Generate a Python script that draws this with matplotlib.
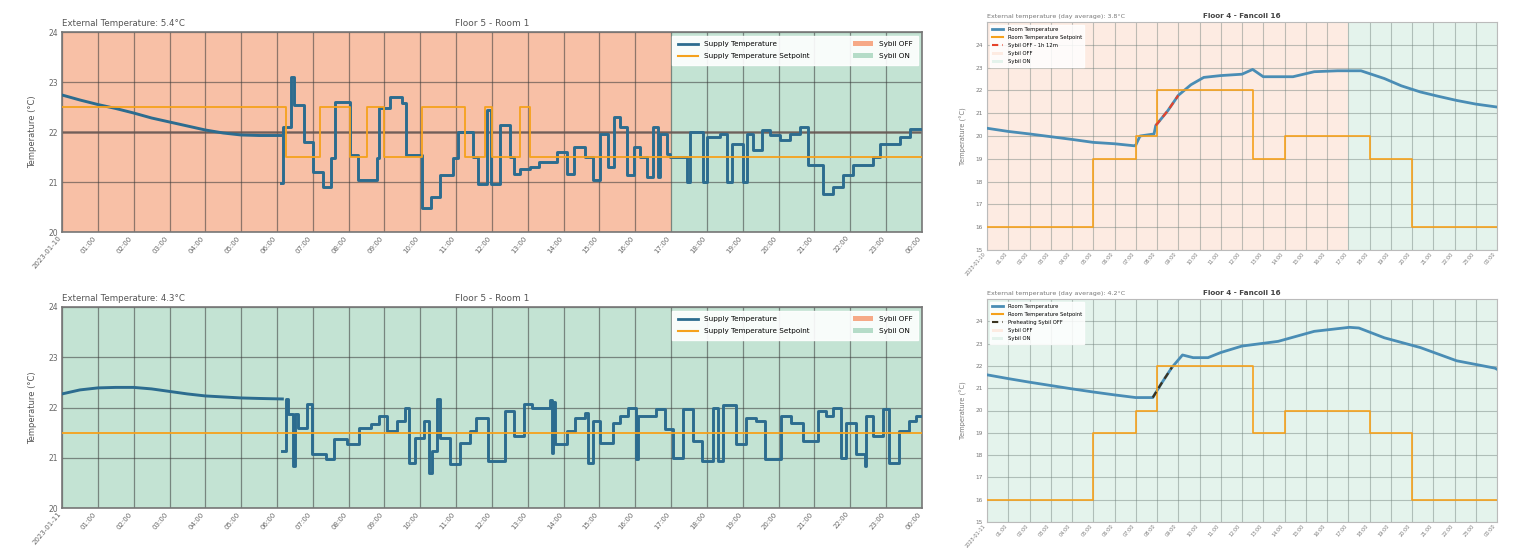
import matplotlib.pyplot as plt
import numpy as np
from matplotlib.patches import Patch
from matplotlib.lines import Line2D

plt.rcParams['font.family'] = ['DejaVu Sans']

hour_ticks = np.arange(25)

# ---------------- Floor 5 - Room 1 (supply temperature) ----------------
# day 1: Sybil OFF until 17:00, ON afterwards
ext_1 = 5.4
supply_ramp_t1 = [0, 0.5, 1, 1.5, 2, 2.5, 3, 3.5, 4, 4.5, 5, 5.5, 6.1]
supply_ramp_v1 = [22.74, 22.64, 22.55, 22.47, 22.38, 22.28, 22.2, 22.12, 22.04, 21.98, 21.94, 21.93, 21.93]
supply_step_t1 = [6.1, 6.18, 6.38, 6.47, 6.75, 7.0, 7.27, 7.5, 7.63, 8.05, 8.25, 8.8, 8.85, 9.15,
                  9.5, 9.6, 10.05, 10.3, 10.55, 10.9, 11.05, 11.48, 11.62, 11.85, 11.97, 12.23,
                  12.51, 12.6, 12.79, 13.06, 13.3, 13.8, 14.1, 14.3, 14.6, 14.83, 15.02, 15.25,
                  15.4, 15.57, 15.76, 15.95, 16.13, 16.32, 16.5, 16.64, 16.69, 16.88, 16.97,
                  17.44, 17.53, 17.9, 17.99, 18.36, 18.55, 18.69, 19.01, 19.11, 19.29, 19.53,
                  19.76, 20.04, 20.32, 20.59, 20.82, 21.24, 21.52, 21.8, 22.08, 22.64, 22.83,
                  23.38, 23.66, 24.0]
supply_step_v1 = [20.98, 22.1, 23.1, 22.55, 21.8, 21.2, 20.9, 21.48, 22.6, 21.54, 21.04, 21.48, 22.48, 22.7,
                  22.58, 21.54, 20.48, 20.7, 21.14, 21.48, 22.0, 21.5, 20.97, 22.44, 20.97, 22.14,
                  21.5, 21.17, 21.27, 21.3, 21.4, 21.6, 21.17, 21.7, 21.5, 21.04, 21.97, 21.3,
                  22.3, 22.1, 21.14, 21.7, 21.5, 21.1, 22.1, 21.1, 21.97, 21.57, 21.5,
                  21.0, 22.0, 21.0, 21.9, 21.97, 21.0, 21.77, 21.0, 21.97, 21.64, 22.04,
                  21.94, 21.84, 21.97, 22.1, 21.34, 20.77, 20.9, 21.14, 21.34, 21.5, 21.77,
                  21.9, 22.07, 22.07]
setpoint_t1 = [0, 6.24, 7.2, 8.05, 8.5, 9.0, 10.05, 11.25, 11.8, 12.0, 12.79, 13.05, 24]
setpoint_v1 = [22.5, 21.5, 22.5, 21.5, 22.5, 21.5, 22.5, 21.5, 22.5, 21.5, 22.5, 21.5, 21.5]
sybil_on_from_1 = 17

# day 2: Sybil ON all day
ext_2 = 4.3
supply_ramp_t2 = [0, 0.5, 1, 1.5, 2, 2.5, 3, 3.5, 4, 4.5, 5, 5.5, 6.15]
supply_ramp_v2 = [22.27, 22.35, 22.39, 22.4, 22.4, 22.37, 22.32, 22.27, 22.23, 22.21, 22.19, 22.18, 22.17]
supply_step_t2 = [6.15, 6.24, 6.3, 6.46, 6.51, 6.6, 6.84, 6.98, 7.36, 7.59, 7.96, 8.29, 8.61,
                  8.84, 9.07, 9.35, 9.58, 9.67, 9.86, 10.1, 10.24, 10.33, 10.47, 10.56, 10.84,
                  11.12, 11.4, 11.54, 11.9, 12.37, 12.6, 12.88, 13.11, 13.62, 13.67, 13.71,
                  13.76, 14.08, 14.32, 14.6, 14.69, 14.83, 15.01, 15.39, 15.57, 15.8, 16.03,
                  16.08, 16.59, 16.82, 17.06, 17.34, 17.61, 17.85, 18.17, 18.31, 18.45, 18.82,
                  19.1, 19.38, 19.61, 20.07, 20.35, 20.68, 21.1, 21.33, 21.51, 21.75, 21.88,
                  22.16, 22.4, 22.44, 22.63, 22.91, 23.09, 23.37, 23.65, 23.83, 24.0]
supply_step_v2 = [21.14, 22.17, 21.87, 20.84, 21.87, 21.6, 22.07, 21.07, 20.97, 21.37, 21.27, 21.6, 21.67,
                  21.84, 21.54, 21.74, 22.0, 20.9, 21.4, 21.74, 20.7, 21.14, 22.17, 21.4, 20.87,
                  21.3, 21.54, 21.8, 20.94, 21.94, 21.44, 22.07, 22.0, 22.14, 21.1, 22.1,
                  21.27, 21.54, 21.8, 21.9, 20.9, 21.74, 21.3, 21.7, 21.84, 22.0, 20.97,
                  21.84, 21.97, 21.57, 21.0, 21.97, 21.34, 20.94, 22.0, 20.94, 22.04, 21.27,
                  21.8, 21.74, 20.97, 21.84, 21.7, 21.34, 21.94, 21.84, 22.0, 21.0, 21.7,
                  21.07, 20.84, 21.84, 21.44, 21.97, 20.9, 21.54, 21.74, 21.84, 21.84]
setpoint_t2 = [0, 24]
setpoint_v2 = [21.5, 21.5]
sybil_on_from_2 = 0

# ---------------- Floor 4 - Fancoil 16 (room temperature) ----------------
fc_ext_1 = 3.8
room_t1 = [0, 1, 2, 3, 4, 5, 6, 6.94, 7.0, 7.2, 7.86, 7.94, 8.5, 9.0, 9.6, 10.2, 11, 12.0,
           12.5, 13.0, 14.4, 15.4, 16.5, 17.6, 18.7, 19.5, 20.4, 21.2, 22.1, 23, 24]
room_v1 = [20.34, 20.2, 20.09, 19.97, 19.85, 19.72, 19.66, 19.57, 19.6, 20.0, 20.09, 20.46, 21.1, 21.78,
           22.25, 22.57, 22.65, 22.71, 22.92, 22.6, 22.6, 22.82, 22.86, 22.86, 22.52, 22.2, 21.93,
           21.75, 21.56, 21.4, 21.27]
room_sp_t1 = [0, 5, 7, 8, 12.5, 14, 18, 20, 24]
room_sp_v1 = [16, 19, 20, 22, 19, 20, 19, 16, 16]
fan_off_window_1 = (7.94, 9.0)
fc_on_from_1 = 17

fc_ext_2 = 4.2
room_t2 = [0, 1, 2, 3, 4, 5, 6, 7, 7.8, 8.2, 8.7, 9.2, 9.7, 10.4, 11, 12, 13.7, 15.4, 17.05,
           17.5, 18.7, 20.4, 22.1, 23.9, 24]
room_v2 = [21.6, 21.43, 21.27, 21.12, 20.97, 20.83, 20.7, 20.58, 20.58, 21.2, 21.93, 22.49, 22.37,
           22.37, 22.6, 22.89, 23.1, 23.55, 23.73, 23.7, 23.26, 22.82, 22.23, 21.9, 21.85]
room_sp_t2 = [0, 5, 7, 8, 12.5, 14, 18, 20, 24]
room_sp_v2 = [16, 19, 20, 22, 19, 20, 19, 16, 16]
preheat_window_2 = (7.8, 8.7)
fc_on_from_2 = 0

# colours
off_strong, on_strong = '#f8c0a6', '#c3e3d3'
off_light, on_light = '#fdebe2', '#e4f3ec'
blue_dark, blue_light, orange = '#2c6c8f', '#4a8db5', '#f5a11c'

fig = plt.figure(figsize=(15.18, 5.48), dpi=100)


def time_labels(date):
    return [date] + ['%02d:00' % (h % 24) for h in hour_ticks[1:]]


def room_panel(rect, date, ext, ramp_t, ramp_v, step_t, step_v, sp_t, sp_v, on_from, dark_line=False):
    ax = fig.add_axes(rect)
    if on_from > 0:
        ax.axvspan(0, on_from, color=off_strong, lw=0)
    ax.axvspan(on_from, 24, color=on_strong, lw=0)
    ax.plot(ramp_t, ramp_v, color=blue_dark, lw=2.1, zorder=3)
    ax.step(step_t, step_v, where='post', color=blue_dark, lw=2.1, zorder=3)
    ax.step(sp_t, sp_v, where='post', color=orange, lw=1.3, zorder=4)
    if dark_line:
        ax.axhline(22, color='#6b5a55', lw=1.8, alpha=0.8, zorder=2)
    ax.set_xlim(0, 24)
    ax.set_ylim(20, 24)
    ax.set_xticks(hour_ticks)
    ax.set_xticklabels(time_labels(date), rotation=50, ha='right', fontsize=5, color='#666')
    ax.set_yticks([20, 21, 22, 23, 24])
    ax.tick_params(axis='y', labelsize=5.5, labelcolor='#666', length=0, pad=3)
    ax.tick_params(axis='x', length=0, pad=2)
    ax.grid(True, color='#3a3a3a', alpha=0.55, lw=0.9)
    for s in ax.spines.values():
        s.set_color('#777')
        s.set_linewidth(1.2)
    ax.set_ylabel('Temperature (°C)', fontsize=6, color='#555', labelpad=8)
    ax.set_title('External Temperature: %.1f°C' % ext, loc='left', fontsize=6.2, color='#555', pad=4)
    ax.set_title('Floor 5 - Room 1', fontsize=6.5, color='#555', pad=4)
    handles = [Line2D([], [], color=blue_dark, lw=2),
               Line2D([], [], color=orange, lw=1.5),
               Patch(facecolor='#f6a987', edgecolor='none'),
               Patch(facecolor='#b5dcc8', edgecolor='none')]
    labels = ['Supply Temperature', 'Supply Temperature Setpoint', 'Sybil OFF', 'Sybil ON']
    ax.legend(handles, labels, loc='upper right', ncol=2, fontsize=5.2, frameon=True,
              fancybox=False, framealpha=0.9, edgecolor='white', columnspacing=6,
              handlelength=2.8, borderpad=0.8, labelspacing=0.8)
    return ax


def fancoil_panel(rect, date, ext, t, v, sp_t, sp_v, window, on_from, dash_color, dash_label):
    ax = fig.add_axes(rect)
    if on_from > 0:
        ax.axvspan(0, on_from, color=off_light, lw=0)
    ax.axvspan(on_from, 24, color=on_light, lw=0)
    ax.plot(t, v, color=blue_light, lw=2.0, zorder=3)
    ax.step(sp_t, sp_v, where='post', color=orange, lw=1.2, zorder=4)
    t_arr, v_arr = np.array(t), np.array(v)
    m = (t_arr >= window[0]) & (t_arr <= window[1])
    ax.plot(t_arr[m], v_arr[m], color=dash_color, lw=1.6, ls=(0, (3, 2)), zorder=5)
    ax.set_xlim(0, 24)
    ax.set_ylim(15, 25)
    ax.set_xticks(hour_ticks)
    ax.set_xticklabels(time_labels(date), rotation=50, ha='right', fontsize=3.6, color='#777')
    ax.set_yticks(np.arange(15, 25))
    ax.tick_params(axis='y', labelsize=4.2, labelcolor='#777', length=0, pad=3)
    ax.tick_params(axis='x', length=0, pad=1)
    ax.grid(True, color='#6f7f7a', alpha=0.45, lw=0.8)
    for s in ax.spines.values():
        s.set_color('#bbb')
        s.set_linewidth(0.8)
    ax.set_ylabel('Temperature (°C)', fontsize=4.8, color='#777', labelpad=6)
    ax.set_title('External temperature (day average): %.1f°C' % ext, loc='left', fontsize=4.6,
                 color='#777', pad=3)
    ax.set_title('Floor 4 - Fancoil 16', fontsize=5.2, color='#444', fontweight='bold', pad=3)
    handles = [Line2D([], [], color=blue_light, lw=2),
               Line2D([], [], color=orange, lw=1.5),
               Line2D([], [], color=dash_color, lw=1.5, ls=(0, (3, 2))),
               Patch(facecolor=off_light, edgecolor='none'),
               Patch(facecolor=on_light, edgecolor='none')]
    labels = ['Room Temperature', 'Room Temperature Setpoint', dash_label, 'Sybil OFF', 'Sybil ON']
    ax.legend(handles, labels, loc='upper left', fontsize=3.8, frameon=True, fancybox=False,
              framealpha=0.85, edgecolor='white', handlelength=2.2, labelspacing=0.6)
    return ax


room_panel([62 / 1518, 1 - 232 / 548, 860 / 1518, 200 / 548], '2023-01-10', ext_1,
           supply_ramp_t1, supply_ramp_v1, supply_step_t1, supply_step_v1,
           setpoint_t1, setpoint_v1, sybil_on_from_1, dark_line=True)
room_panel([62 / 1518, 1 - 508 / 548, 860 / 1518, 201 / 548], '2023-01-11', ext_2,
           supply_ramp_t2, supply_ramp_v2, supply_step_t2, supply_step_v2,
           setpoint_t2, setpoint_v2, sybil_on_from_2)

fancoil_panel([987 / 1518, 1 - 250 / 548, 510 / 1518, 228 / 548], '2023-01-10', fc_ext_1,
              room_t1, room_v1, room_sp_t1, room_sp_v1, fan_off_window_1, fc_on_from_1,
              '#e5432b', 'Sybil OFF - 1h 12m')
fancoil_panel([987 / 1518, 1 - 522 / 548, 510 / 1518, 223 / 548], '2023-01-11', fc_ext_2,
              room_t2, room_v2, room_sp_t2, room_sp_v2, preheat_window_2, fc_on_from_2,
              '#3b3320', 'Preheating Sybil OFF')

fig.savefig('out.png', dpi=100)
